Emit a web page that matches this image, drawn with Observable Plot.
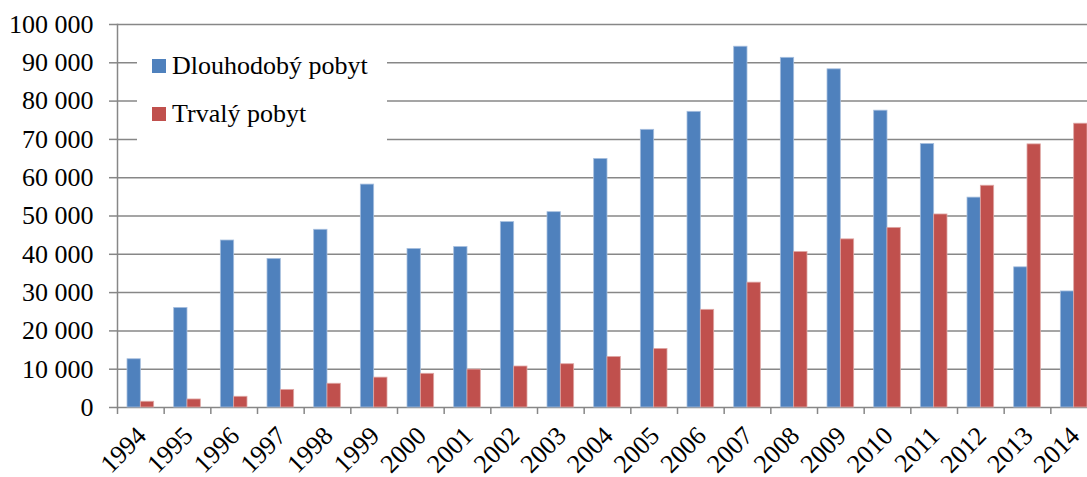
<!DOCTYPE html>
<html>
<head>
<meta charset="utf-8">
<script src="https://cdn.jsdelivr.net/npm/d3@7"></script>
<script src="https://cdn.jsdelivr.net/npm/@observablehq/plot@0.6"></script>
<style>
  html, body { margin: 0; padding: 0; background: #fff; }
  #wrap { position: relative; width: 1087px; height: 477px; overflow: hidden; }
  #legend { position: absolute; left: 137px; top: 42px; width: 250px; height: 118px; background: #fff;
    font-family: "Liberation Serif", "Times New Roman", serif; font-size: 26px; color: #000; }
  .item { position: absolute; left: 15px; display: flex; align-items: center; white-space: nowrap; }
  .sw { width: 14px; height: 14px; margin-right: 6px; }
</style>
</head>
<body>
<div id="wrap"></div>
<script>
const years = [1994,1995,1996,1997,1998,1999,2000,2001,2002,2003,2004,2005,2006,2007,2008,2009,2010,2011,2012,2013,2014];
const dlouhodoby = [12600,26000,43600,38800,46400,58200,41400,41900,48400,51000,64900,72500,77200,94200,91300,88300,77500,68800,54800,36600,30300];
const trvaly = [1500,2100,2800,4600,6200,7800,8800,9900,10700,11300,13200,15300,25500,32600,40600,43900,46900,50400,57900,68700,74100];
const seriesNames = ["Dlouhodobý pobyt", "Trvalý pobyt"];
const colors = ["#4F81BD", "#C0504D"];
const yTicks = [0,10000,20000,30000,40000,50000,60000,70000,80000,90000,100000];

const rowsA = years.map((y, i) => ({year: String(y), value: dlouhodoby[i]}));
const rowsB = years.map((y, i) => ({year: String(y), value: trvaly[i]}));

const fmt = d => d3.format(",")(d).replace(/,/g, " ");
const grid = "#878787";
const W = 1087, H = 477, mL = 117, mT = 24, mB = 70;
const bandW = 46.667;
const barW = 13.33;

const chart = Plot.plot({
  width: W,
  height: H,
  marginLeft: mL,
  marginTop: mT,
  marginBottom: mB,
  marginRight: 0,
  style: { fontFamily: "'Liberation Serif', 'Times New Roman', serif", fontSize: "26px", color: "#000", background: "#fff", overflow: "hidden" },
  x: { type: "band", domain: years.map(String), range: [mL, mL + bandW * years.length], padding: 0, round: false, label: null },
  y: { domain: [0, 100000], label: null },
  marks: [
    Plot.ruleY(yTicks, { y: d => d, stroke: grid, strokeWidth: 1.5 }),
    Plot.barY(rowsA, { x: "year", y: "value", fill: colors[0], stroke: "#A7BFDE", strokeWidth: 0.8, insetLeft: bandW / 2 - barW, insetRight: bandW / 2 }),
    Plot.barY(rowsB, { x: "year", y: "value", fill: colors[1], stroke: "#DFA8A6", strokeWidth: 0.8, insetLeft: bandW / 2, insetRight: bandW / 2 - barW }),
    Plot.frame({ anchor: "left", stroke: grid, strokeWidth: 1.5 }),
    Plot.axisY({ ticks: yTicks, tickFormat: fmt, tickSize: 8, tickPadding: 16, stroke: grid, strokeWidth: 1.5, fontSize: 26, fill: "#000", label: null }),
    Plot.axisX({ tickSize: 7, tickFormat: () => "", stroke: grid, strokeWidth: 1.5, dx: -bandW / 2, label: null }),
    Plot.axisX({ tickSize: 0, tickRotate: -45, tickPadding: 24, fontSize: 26, fill: "#000", dx: 1, label: null })
  ]
});

const wrap = document.getElementById("wrap");
wrap.appendChild(chart);

const legend = document.createElement("div");
legend.id = "legend";
seriesNames.forEach((name, i) => {
  const item = document.createElement("div");
  item.className = "item";
  item.style.top = (i === 0 ? 9 : 57) + "px";
  const sw = document.createElement("span");
  sw.className = "sw";
  sw.style.background = colors[i];
  const t = document.createElement("span");
  t.textContent = name;
  item.appendChild(sw);
  item.appendChild(t);
  legend.appendChild(item);
});
wrap.appendChild(legend);
</script>
</body>
</html>
